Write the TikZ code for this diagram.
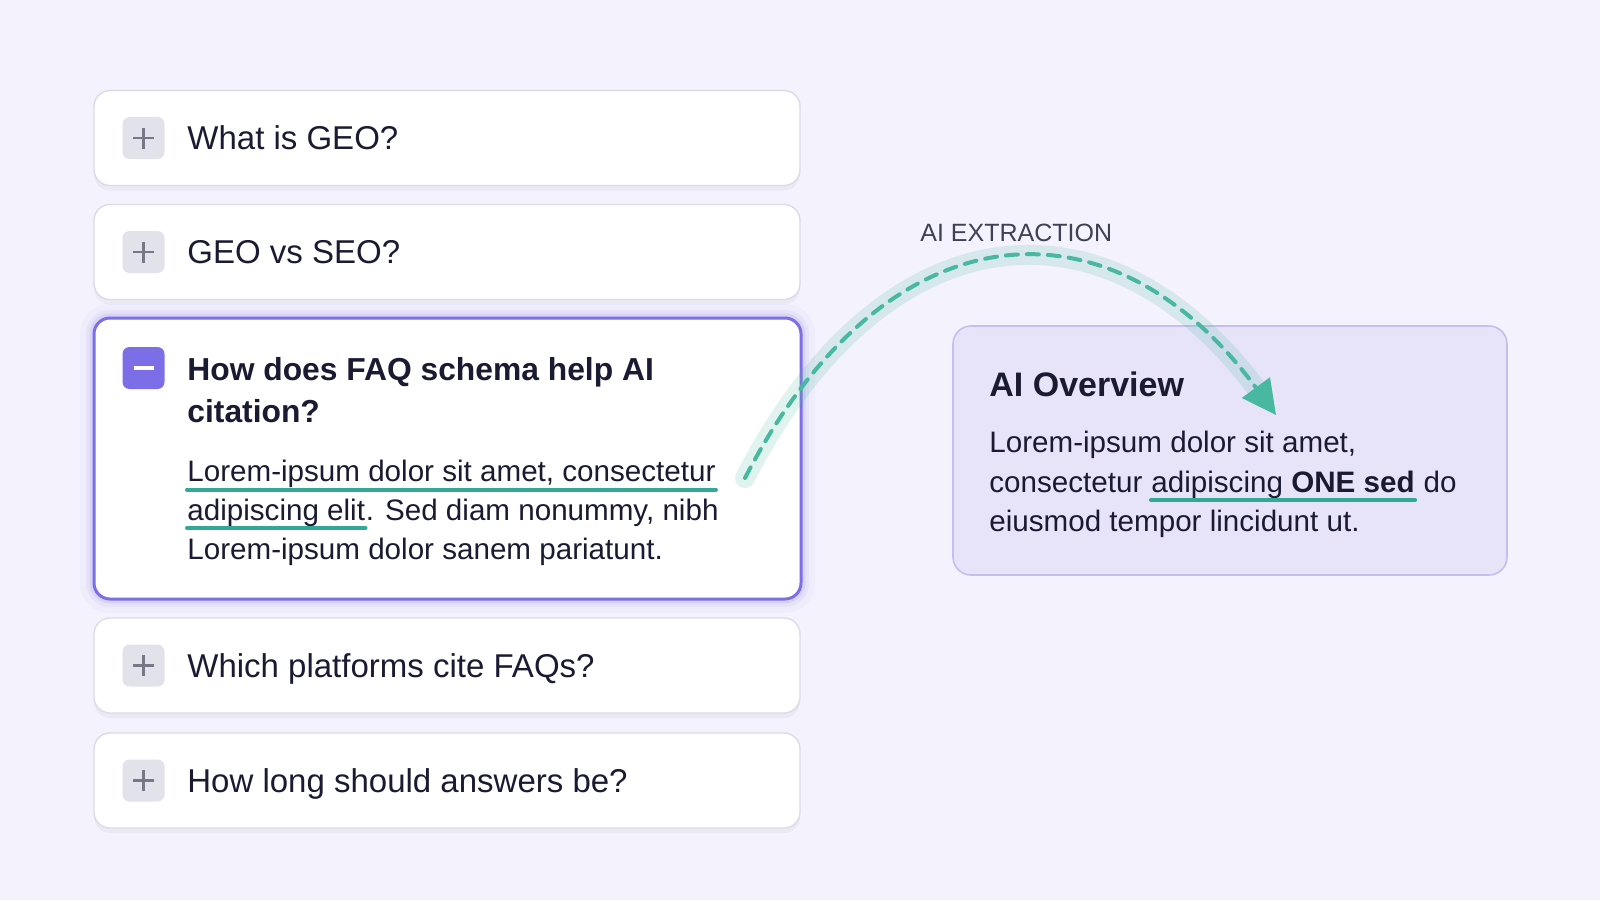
\documentclass[tikz,border=0pt]{standalone}
\usepackage{fontspec}
\setmainfont{Liberation Sans}
\usetikzlibrary{arrows.meta,shadows,positioning}

\definecolor{bgcol}{RGB}{244,242,252}
\definecolor{cardedge}{RGB}{220,220,230}
\definecolor{iconfill}{RGB}{226,226,234}
\definecolor{plusgray}{RGB}{118,120,136}
\definecolor{purp}{RGB}{123,110,230}
\definecolor{ink}{RGB}{26,27,50}
\definecolor{labelgray}{RGB}{62,64,84}
\definecolor{tealline}{RGB}{52,168,150}
\definecolor{tealdash}{RGB}{72,184,160}
\definecolor{ovfill}{RGB}{231,227,249}
\definecolor{ovedge}{RGB}{198,190,238}

\tikzset{
  card/.style={draw=cardedge, fill=white, line width=0.7pt, rounded corners=8pt,
    minimum width=353pt, minimum height=47.5pt, inner sep=0pt,
    drop shadow={opacity=0.07, shadow xshift=0pt, shadow yshift=-2.5pt}},
  opencard/.style={draw=purp, fill=white, line width=1.5pt, rounded corners=8pt,
    minimum width=353.5pt, minimum height=140.5pt, inner sep=0pt,
    preaction={draw=purp, line width=14pt, draw opacity=0.04},
    preaction={draw=purp, line width=8pt, draw opacity=0.07},
    preaction={draw=purp, line width=4.5pt, draw opacity=0.12}},
  iconbox/.style={fill=iconfill, rounded corners=3.5pt, minimum size=21pt, inner sep=0pt},
  plusicon/.style={iconbox, path picture={
      \draw[plusgray, line width=1.2pt]
        ([xshift=-5.25pt]path picture bounding box.center) -- ([xshift=5.25pt]path picture bounding box.center)
        ([yshift=-5.25pt]path picture bounding box.center) -- ([yshift=5.25pt]path picture bounding box.center);}},
  minusicon/.style={iconbox, fill=purp, path picture={
      \draw[white, line width=1.8pt]
        ([xshift=-5pt]path picture bounding box.center) -- ([xshift=5pt]path picture bounding box.center);}},
  qtext/.style={anchor=base west, inner sep=0pt, text=ink, font=\fontsize{16.5}{19}\selectfont},
  atext/.style={anchor=base west, inner sep=0pt, text=ink, font=\fontsize{14.8}{19}\selectfont},
  uline/.style={draw=tealline, line width=2pt, line cap=round},
  overview/.style={draw=ovedge, fill=ovfill, line width=0.8pt, rounded corners=9pt,
    minimum width=277pt, minimum height=124.5pt, inner sep=0pt},
  glowline/.style={draw=tealdash, line width=10pt, draw opacity=0.17, line cap=round},
  extract/.style={draw=tealdash, line width=2pt, dash pattern=on 6pt off 4.5pt, line cap=round,
    -{Triangle[length=17pt,width=17pt,fill=tealdash]}}
}

\begin{document}
\begin{tikzpicture}[x=0.5pt,y=-0.5pt]
  \fill[bgcol] (0,0) rectangle (1600,900);
  \useasboundingbox (0,0) rectangle (1600,900);

  % question cards
  \node[card] (c1) at (447,138) {};
  \node[card] (c2) at (447,252) {};
  \node[opencard] (c3) at (447.5,458.5) {};
  \node[card] (c4) at (447,665.5) {};
  \node[card] (c5) at (447,780.5) {};

  \node[plusicon] (i1) at (143.5,138) {};
  \node[plusicon] (i2) at (143.5,252) {};
  \node[minusicon] (i3) at (143.5,368) {};
  \node[plusicon] (i4) at (143.5,665.5) {};
  \node[plusicon] (i5) at (143.5,780.5) {};

  \node[qtext] (q1) at (187,149.5) {What is GEO?};
  \node[qtext] (q2) at (187,263.5) {GEO vs SEO?};
  \node[qtext, font=\fontsize{15.9}{19}\selectfont\bfseries] (q3a) at (187,380) {How does FAQ schema help AI};
  \node[qtext, font=\fontsize{15.9}{19}\selectfont\bfseries] (q3b) at (187,422) {citation?};
  \node[qtext] (q4) at (187,677) {Which platforms cite FAQs?};
  \node[qtext] (q5) at (187,792) {How long should answers be?};

  % answer
  \node[atext] (a1) at (187,481.5) {Lorem-ipsum dolor sit amet, consectetur};
  \node[atext] (a2) at (187,520) {adipiscing elit};
  \node[atext] (a2b) at (a2.base east) {. Sed diam nonummy, nibh};
  \node[atext] (a3) at (187,559) {Lorem-ipsum dolor sanem pariatunt.};
  \draw[uline] ([yshift=-4pt]a1.base west) -- ([yshift=-4pt]a1.base east);
  \draw[uline] ([yshift=-4pt]a2.base west) -- ([yshift=-4pt]a2.base east);

  % AI overview
  \node[overview] (ov) at (1230,450.5) {};
  \node[qtext, font=\fontsize{17}{20}\selectfont\bfseries] (ovt) at (989,396) {AI Overview};
  \node[atext] (o1) at (989,452) {Lorem-ipsum dolor sit amet,};
  \node[atext] (o2) at (989,492) {consectetur};
  \node[atext] (o2b) at ([xshift=4.1pt]o2.base east) {adipiscing \textbf{ONE sed}};
  \node[atext] (o2c) at (o2b.base east) {\ do};
  \node[atext] (o3) at (989,531) {eiusmod tempor lincidunt ut.};
  \draw[uline] ([yshift=-4pt]o2b.base west) -- ([yshift=-4pt]o2b.base east);

  % extraction arrow
  \node[anchor=base west, inner sep=0pt, text=labelgray, font=\fontsize{12.5}{15}\selectfont] (lbl) at (920,241) {AI EXTRACTION};
  \coordinate (exStart) at (745,478);
  \coordinate (exEnd) at (1276,415);
  \draw[glowline, shorten >=14pt] (exStart) .. controls (885,206) and (1110,189) .. (exEnd);
  \draw[extract] (exStart) .. controls (885,206) and (1110,189) .. (exEnd);
\end{tikzpicture}
\end{document}
